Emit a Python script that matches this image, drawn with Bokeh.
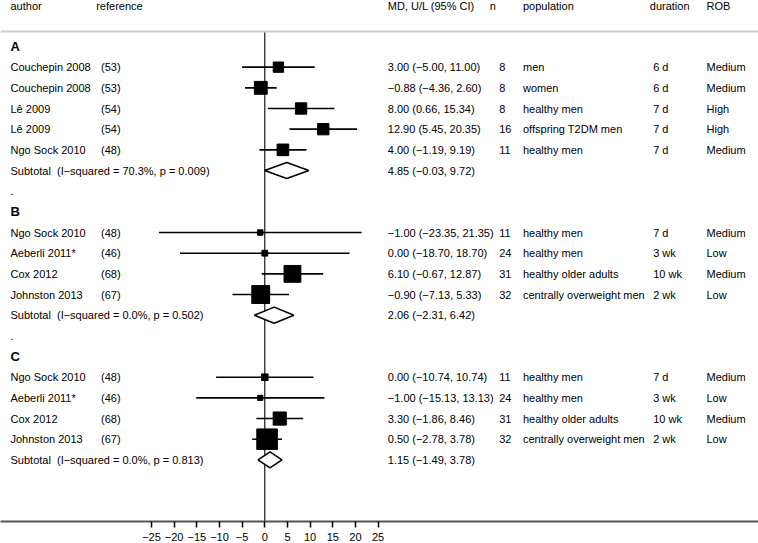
from bokeh.plotting import figure
from bokeh.models import Range1d, FixedTicker, Span
from bokeh.core.properties import value
from bokeh.embed import file_html
from bokeh.resources import INLINE
import math

# ---------------- data ----------------
header_labels = ["author", "reference", "MD, U/L (95% CI)", "n", "population", "duration", "ROB"]
group_names = ["A", "B", "C"]

authors_A = ["Couchepin 2008", "Couchepin 2008", "Lê 2009", "Lê 2009", "Ngo Sock 2010"]
refs_A = ["(53)", "(53)", "(54)", "(54)", "(48)"]
md_A = [3.00, -0.88, 8.00, 12.90, 4.00]
lo_A = [-5.00, -4.36, 0.66, 5.45, -1.19]
hi_A = [11.00, 2.60, 15.34, 20.35, 9.19]
n_A = [8, 8, 8, 16, 11]
pop_A = ["men", "women", "healthy men", "offspring T2DM men", "healthy men"]
dur_A = ["6 d", "6 d", "7 d", "7 d", "7 d"]
rob_A = ["Medium", "Medium", "High", "High", "Medium"]
weight_A = [16.1, 24.9, 19.3, 19.3, 20.3]
sub_A = [4.85, -0.03, 9.72]
het_A = ["70.3%", "0.009"]

authors_B = ["Ngo Sock 2010", "Aeberli 2011*", "Cox 2012", "Johnston 2013"]
refs_B = ["(48)", "(46)", "(68)", "(67)"]
md_B = [-1.00, 0.00, 6.10, -0.90]
lo_B = [-23.35, -18.70, -0.67, -7.13]
hi_B = [21.35, 18.70, 12.87, 5.33]
n_B = [11, 24, 31, 32]
pop_B = ["healthy men", "healthy men", "healthy older adults", "centrally overweight men"]
dur_B = ["7 d", "3 wk", "10 wk", "2 wk"]
rob_B = ["Medium", "Low", "Medium", "Low"]
weight_B = [4.5, 5.0, 42.5, 48.0]
sub_B = [2.06, -2.31, 6.42]
het_B = ["0.0%", "0.502"]

authors_C = ["Ngo Sock 2010", "Aeberli 2011*", "Cox 2012", "Johnston 2013"]
refs_C = ["(48)", "(46)", "(68)", "(67)"]
md_C = [0.00, -1.00, 3.30, 0.50]
lo_C = [-10.74, -15.13, -1.86, -2.78]
hi_C = [10.74, 13.13, 8.46, 3.78]
n_C = [11, 24, 31, 32]
pop_C = ["healthy men", "healthy men", "healthy older adults", "centrally overweight men"]
dur_C = ["7 d", "3 wk", "10 wk", "2 wk"]
rob_C = ["Medium", "Low", "Medium", "Low"]
weight_C = [6.5, 4.0, 26.0, 63.5]
sub_C = [1.15, -1.49, 3.78]
het_C = ["0.0%", "0.813"]

x_ticks = [-25, -20, -15, -10, -5, 0, 5, 10, 15, 20, 25]

groups = [
    (authors_A, refs_A, md_A, lo_A, hi_A, n_A, pop_A, dur_A, rob_A, weight_A, sub_A, het_A),
    (authors_B, refs_B, md_B, lo_B, hi_B, n_B, pop_B, dur_B, rob_B, weight_B, sub_B, het_B),
    (authors_C, refs_C, md_C, lo_C, hi_C, n_C, pop_C, dur_C, rob_C, weight_C, sub_C, het_C),
]

# ---------------- layout ----------------
W, H = 758, 543
PX0, SCALE = 264.3, 4.533          # page px of zero, px per unit
def xd(px):
    return (px - PX0) / SCALE

FONT = value("Liberation Sans")
FS = "11px"

def mfmt(v):
    return f"{v:.2f}".replace("-", "\u2212")

def ci_text(m, l, h):
    return f"{mfmt(m)} ({mfmt(l)}, {mfmt(h)})"

HEADER_ROW = -1.95
LINE_ROW = -0.73
AXIS_ROW = 22.98
TOP_ROW = -2.225

p = figure(width=W, height=H, output_backend="svg", toolbar_location=None,
           x_range=Range1d(xd(0), xd(758)), y_range=Range1d(AXIS_ROW, TOP_ROW),
           y_axis_location=None, min_border=0, min_border_bottom=0,
           outline_line_color=None, background_fill_color="white")
p.xgrid.visible = False
p.ygrid.visible = False

ax = p.xaxis[0]
ax.ticker = FixedTicker(ticks=x_ticks)
ax.major_label_overrides = {t: str(t).replace("-", "\u2212") for t in x_ticks}
ax.axis_line_color = "#555555"
ax.axis_line_width = 2
ax.major_tick_line_color = "black"
ax.major_tick_line_width = 1.5
ax.major_tick_in = 0
ax.major_tick_out = 6
ax.minor_tick_line_color = None
ax.major_label_standoff = 5
ax.major_label_text_font = "Liberation Sans"
ax.major_label_text_font_size = FS
ax.major_label_text_color = "black"

# column x positions (page px)
COL_AUTHOR = 10
COL_REF_H, COL_REF = 95.7, 100.5
COL_MD = 387.3
COL_N_H, COL_N = 489.3, 498.7
COL_POP = 522.5
COL_DUR_H, COL_DUR = 649.3, 652.7
COL_ROB = 706

# header
hx = [COL_AUTHOR, COL_REF_H, COL_MD, COL_N_H, COL_POP, COL_DUR_H, COL_ROB]
p.text(x=[xd(v) for v in hx], y=[HEADER_ROW] * len(hx), text=header_labels,
       text_font=FONT, text_font_size=FS, text_baseline="middle", text_color="black")

p.add_layout(Span(location=LINE_ROW, dimension="width", line_color="#cccccc", line_width=2))
p.segment(x0=[0], y0=[LINE_ROW], x1=[0], y1=[AXIS_ROW], line_color="black", line_width=1.1)

row = 0
t_x, t_y, t_s = [], [], []
g_y = []
ci_y, ci_l, ci_h, sq_x, sq_y, sq_s = [], [], [], [], [], []
dia_xs, dia_ys = [], []
for gi, (au, rf, md, lo, hi, nn, pp, du, rb, wt, sub, het) in enumerate(groups):
    g_y.append(row)
    row += 1
    for i in range(len(au)):
        for cx, s in [(COL_AUTHOR, au[i]), (COL_REF, rf[i]), (COL_MD, ci_text(md[i], lo[i], hi[i])),
                      (COL_N, str(nn[i])), (COL_POP, pp[i]), (COL_DUR, du[i]), (COL_ROB, rb[i])]:
            t_x.append(xd(cx)); t_y.append(row); t_s.append(s)
        ci_y.append(row); ci_l.append(lo[i]); ci_h.append(hi[i])
        sq_x.append(md[i]); sq_y.append(row); sq_s.append(2.58 * math.sqrt(wt[i]))
        row += 1
    t_x.append(xd(COL_AUTHOR)); t_y.append(row)
    t_s.append(f"Subtotal\u00a0 (I\u2212squared = {het[0]}, p = {het[1]})")
    t_x.append(xd(COL_MD)); t_y.append(row); t_s.append(ci_text(*sub))
    h = 0.39
    dia_xs.append([sub[1], sub[0], sub[2], sub[0]])
    dia_ys.append([row, row - h, row, row + h])
    row += 1
    if gi < len(groups) - 1:
        t_x.append(xd(COL_AUTHOR)); t_y.append(row); t_s.append(".")
        row += 1

p.text(x=[xd(COL_AUTHOR)] * len(g_y), y=g_y, text=group_names, text_font=FONT,
       text_font_size="13px", text_font_style="bold", text_baseline="middle", text_color="black")
p.text(x=t_x, y=t_y, text=t_s, text_font=FONT, text_font_size=FS,
       text_baseline="middle", text_color="black")

p.segment(x0=ci_l, y0=ci_y, x1=ci_h, y1=ci_y, line_color="black", line_width=1.6)
p.scatter(x=sq_x, y=sq_y, size=sq_s, marker="square", fill_color="black", line_color="black")
p.patches(xs=dia_xs, ys=dia_ys, fill_color="white", line_color="black", line_width=1.5)

open("out.html", "w").write(file_html(p, INLINE))
